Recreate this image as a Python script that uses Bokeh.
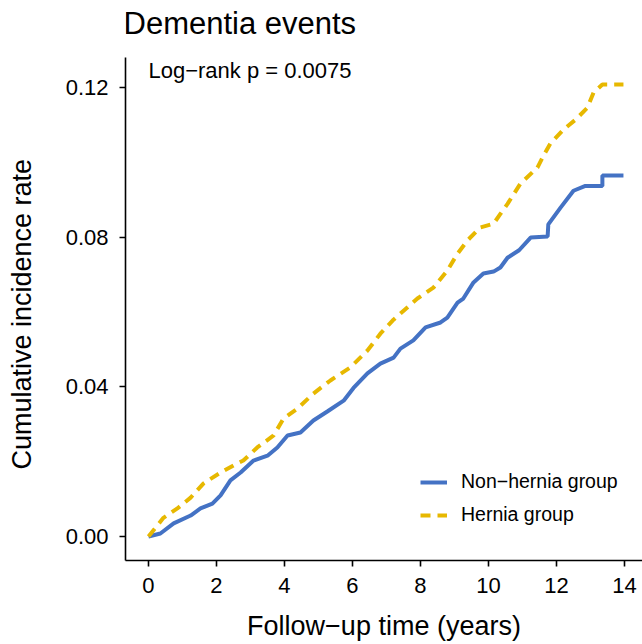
from bokeh.plotting import figure
from bokeh.models import (Range1d, Label, Legend, LegendItem, FixedTicker,
                          NumeralTickFormatter, ColumnDataSource)
from bokeh.embed import file_html
from bokeh.resources import INLINE

# ---- data ----
non_hernia_time = [0, 0.35, 0.74, 1.24, 1.53, 1.88, 2.12, 2.41, 2.71, 3.09, 3.5, 3.79,
                   4.09, 4.47, 4.85, 5.26, 5.74, 6.03, 6.44, 6.82, 7.21, 7.41, 7.79,
                   8.15, 8.59, 8.79, 9.09, 9.26, 9.56, 9.85, 10.15, 10.35, 10.56, 10.9,
                   11.24, 11.74, 11.76, 12.12, 12.5, 12.85, 13.35, 13.35, 13.97]
non_hernia_rate = [0, 0.0008, 0.0035, 0.0056, 0.0075, 0.0088, 0.011, 0.015, 0.0171,
                   0.0203, 0.0216, 0.0238, 0.027, 0.0278, 0.031, 0.0334, 0.0363,
                   0.0397, 0.0436, 0.0462, 0.0478, 0.0502, 0.0524, 0.0559, 0.0572,
                   0.0585, 0.0625, 0.0636, 0.0679, 0.0703, 0.0708, 0.0719, 0.0745,
                   0.0765, 0.0799, 0.0802, 0.0834, 0.0879, 0.0924, 0.0937, 0.0937,
                   0.0965, 0.0965]
hernia_time = [0, 0.44, 0.85, 1.24, 1.62, 2.12, 2.5, 2.79, 3.2, 3.68, 3.97, 4.38, 4.85,
               5.35, 5.94, 6.44, 6.82, 7.18, 7.41, 7.91, 8.38, 8.79, 9.09, 9.38, 9.76,
               10.15, 10.35, 10.56, 10.94, 11.44, 11.62, 11.82, 12.21, 12.56, 12.91,
               13.09, 13.35, 13.97]
hernia_rate = [0, 0.005, 0.0075, 0.0104, 0.0142, 0.0171, 0.019, 0.0203, 0.0238, 0.027,
               0.0315, 0.0342, 0.0382, 0.0417, 0.0452, 0.0497, 0.0542, 0.0577, 0.0596,
               0.0636, 0.0665, 0.0711, 0.0756, 0.0791, 0.0826, 0.0836, 0.0862, 0.0889,
               0.0943, 0.0986, 0.1018, 0.105, 0.1088, 0.1114, 0.1146, 0.1186, 0.1208,
               0.1208]
x_ticks = [0, 2, 4, 6, 8, 10, 12, 14]
y_ticks = [0, 0.04, 0.08, 0.12]
series_names = ["Non\u2212hernia group", "Hernia group"]
title_text = "Dementia events"
x_label = "Follow\u2212up time (years)"
y_label = "Cumulative incidence rate"
pvalue_text = "Log\u2212rank p = 0.0075"

FONT = "Liberation Sans"
BLUE = "#4472C4"
YELLOW = "#E7B800"

Y_LO, Y_AXIS_TOP, Y_FRAME_TOP = -0.006414, 0.12802, 0.14325

p = figure(width=642, height=644,
           x_range=Range1d(-0.676, 14.53), y_range=Range1d(Y_LO, Y_FRAME_TOP),
           output_backend="svg", toolbar_location=None,
           min_border_left=125, min_border_right=0, min_border_top=0,
           min_border_bottom=84)
p.background_fill_color = "white"
p.border_fill_color = "white"
p.outline_line_color = None
p.xgrid.visible = False
p.ygrid.visible = False

src_nh = ColumnDataSource(dict(t=non_hernia_time, r=non_hernia_rate))
src_h = ColumnDataSource(dict(t=hernia_time, r=hernia_rate))
r_nh = p.line("t", "r", source=src_nh, line_color=BLUE, line_width=4)
r_h = p.line("t", "r", source=src_h, line_color=YELLOW, line_width=4, line_dash="10 7")

for ax in (p.xaxis[0], p.yaxis[0]):
    ax.axis_line_color = "black"
    ax.axis_line_width = 1.6
    ax.major_tick_line_color = "black"
    ax.major_tick_line_width = 1.6
    ax.major_tick_out = 6
    ax.major_tick_in = 0
    ax.minor_tick_line_color = None
    ax.major_label_text_font = FONT
    ax.major_label_text_font_size = "22px"
    ax.major_label_text_color = "black"
    ax.axis_label_text_font = FONT
    ax.axis_label_text_font_size = "27px"
    ax.axis_label_text_font_style = "normal"
    ax.axis_label_text_color = "black"

p.xaxis.ticker = FixedTicker(ticks=x_ticks)
p.yaxis.ticker = FixedTicker(ticks=y_ticks)
p.yaxis.formatter = NumeralTickFormatter(format="0.00")
p.yaxis.bounds = (Y_LO, Y_AXIS_TOP)
p.xaxis.major_label_standoff = 11
p.yaxis.major_label_standoff = 11

# non-breaking spaces keep the label centred on the drawn axis, not the whole frame
p.yaxis.axis_label = y_label + "\u00a0" * 9
p.yaxis.axis_label_standoff = 26
p.xaxis.axis_label = x_label
p.xaxis.axis_label_standoff = 15

# chart title, placed in screen units relative to the plot frame
p.add_layout(Label(x=-2, y=537, x_units="screen", y_units="screen", text=title_text,
                   text_font=FONT, text_font_size="31px", text_baseline="alphabetic",
                   text_align="left", text_color="black"))

p.add_layout(Label(x=0, y=0.1245, text=pvalue_text, text_font=FONT,
                   text_font_size="22px", text_baseline="middle", text_align="left",
                   text_color="black"))

legend = Legend(items=[LegendItem(label=series_names[0], renderers=[r_nh]),
                       LegendItem(label=series_names[1], renderers=[r_h])],
                location=(295, 34), orientation="vertical",
                label_text_font=FONT, label_text_font_size="19.5px",
                label_text_color="black", glyph_width=27, glyph_height=20,
                label_height=20, label_standoff=14, spacing=10, padding=0,
                margin=0, background_fill_alpha=0, border_line_color=None)
p.add_layout(legend, "center")

open("out.html", "w").write(file_html(p, INLINE))
